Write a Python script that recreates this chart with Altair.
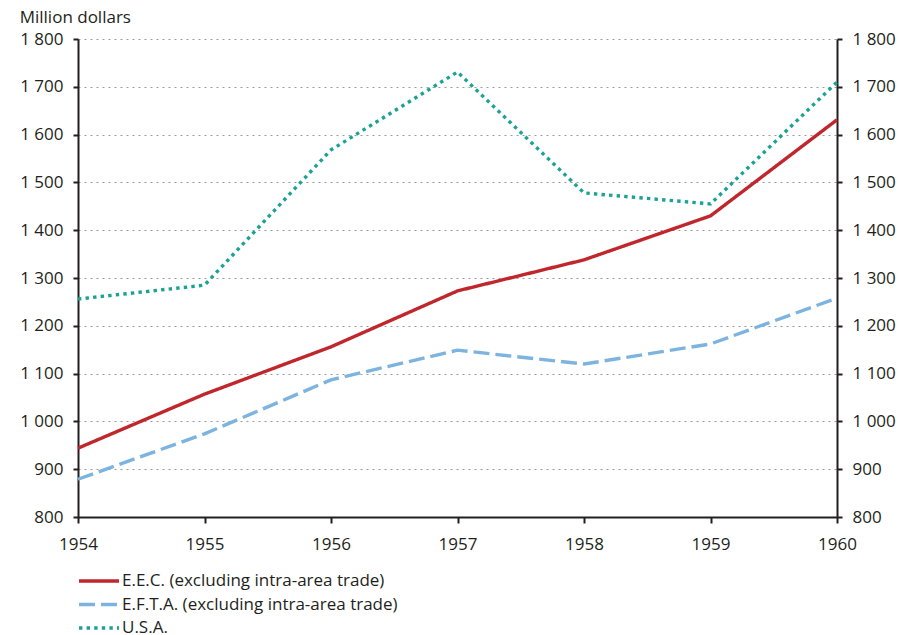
import altair as alt
import pandas as pd

years = [1954, 1955, 1956, 1957, 1958, 1959, 1960]
eec = [944, 1057, 1156, 1273, 1338, 1430, 1631]
efta = [879, 974, 1087, 1149, 1120, 1162, 1258]
usa = [1256, 1285, 1568, 1731, 1478, 1455, 1710]

series_names = ["E.E.C. (excluding intra-area trade)",
                "E.F.T.A. (excluding intra-area trade)",
                "U.S.A."]
colors = ["#C0272D", "#7DB4DF", "#1AA293"]
dashes = [[1, 0], [16, 6], [3.4, 4.2]]

rows = []
for name, vals in zip(series_names, [eec, efta, usa]):
    for y, v in zip(years, vals):
        rows.append({"year": y, "value": v, "series": name})
df = pd.DataFrame(rows)

FONT = "Open Sans"
FS = 17
INK = "#231F20"
label_expr = "replace(format(datum.value, ','), ',', ' ')"
yvals = list(range(800, 1801, 100))
yscale = alt.Scale(domain=[800, 1800], nice=False, zero=False)
xscale = alt.Scale(domain=[1954, 1960], nice=False, zero=False)

def xaxis():
    return alt.Axis(values=years, format="d", title=None, grid=False,
                    domainColor=INK, domainWidth=2, tickColor=INK,
                    tickWidth=2, tickSize=6, labelFontSize=FS, labelFont=FONT,
                    labelColor=INK, labelPadding=13, labelFlush=False)

base = alt.Chart(df)

lines = base.mark_line(strokeWidth=3.4, strokeCap="butt").encode(
    x=alt.X("year:Q", scale=xscale, axis=xaxis()),
    y=alt.Y("value:Q", scale=yscale,
            axis=alt.Axis(values=yvals, title=None,
                          labelExpr=label_expr, grid=True, gridColor="#9A9A9A",
                          gridDash=[2, 4], gridWidth=1, domainColor=INK,
                          domainWidth=2, tickColor=INK, tickWidth=2,
                          tickSize=5, labelFontSize=FS, labelFont=FONT,
                          labelColor=INK, labelPadding=10, orient="left")),
    color=alt.Color("series:N", sort=series_names,
                    scale=alt.Scale(domain=series_names, range=colors),
                    legend=alt.Legend(title=None, orient="none", legendX=9,
                                      legendY=530, symbolType="M-2,0H2",
                                      symbolSize=400, symbolStrokeWidth=3.4,
                                      labelFontSize=FS, labelFont=FONT,
                                      labelColor=INK, rowPadding=3.5,
                                      labelOffset=11, labelLimit=600)),
    strokeDash=alt.StrokeDash("series:N", sort=series_names,
                              scale=alt.Scale(domain=series_names, range=dashes),
                              legend=None),
)

right = base.mark_line(opacity=0).encode(
    x=alt.X("year:Q", scale=xscale, axis=xaxis()),
    y=alt.Y("value:Q", scale=yscale,
            axis=alt.Axis(values=yvals, title=None,
                          labelExpr=label_expr, grid=False,
                          domainColor=INK, domainWidth=2,
                          tickColor=INK, tickWidth=2, tickSize=5,
                          labelFontSize=FS, labelFont=FONT,
                          labelColor=INK, labelPadding=10, orient="right")),
)

chart = alt.layer(lines, right).resolve_scale(y="independent").properties(
    width=759, height=478,
    title=alt.Title("Million dollars", anchor="start", fontSize=FS,
                    font=FONT, fontWeight="normal", color=INK,
                    offset=3),
    autosize=alt.AutoSizeParams(type="none"),
    padding={"left": 78, "top": 39, "right": 67, "bottom": 118},
).configure_view(stroke=None)

chart.save("out.html", embed_options={"renderer": "svg", "actions": False})
